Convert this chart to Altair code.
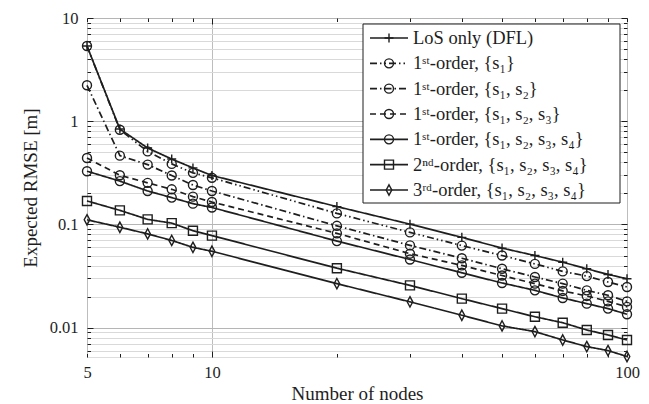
import altair as alt
import pandas as pd

# ---------------- data ----------------
nodes = [5, 6, 7, 8, 9, 10, 20, 30, 40, 50, 60, 70, 80, 90, 100]

los_dfl = [5.35, 0.84, 0.55, 0.43, 0.353, 0.298, 0.149, 0.1007, 0.075, 0.059, 0.050, 0.0431, 0.0372, 0.0328, 0.0298]
first_s1 = [5.35, 0.826, 0.51, 0.386, 0.316, 0.283, 0.128, 0.0838, 0.0624, 0.050, 0.0415, 0.0351, 0.0316, 0.0277, 0.0248]
first_s12 = [2.23, 0.464, 0.38, 0.298, 0.241, 0.211, 0.097, 0.0627, 0.0471, 0.0372, 0.031, 0.0267, 0.023, 0.0206, 0.018]
first_s123 = [0.44, 0.30, 0.253, 0.219, 0.186, 0.165, 0.082, 0.0521, 0.0401, 0.032, 0.0267, 0.0227, 0.0203, 0.018, 0.0159]
first_s1234 = [0.328, 0.263, 0.211, 0.182, 0.159, 0.146, 0.069, 0.0458, 0.034, 0.0271, 0.023, 0.0194, 0.0171, 0.0153, 0.0135]
second_s1234 = [0.169, 0.137, 0.112, 0.103, 0.087, 0.078, 0.0377, 0.0257, 0.0191, 0.0153, 0.01276, 0.01117, 0.0095, 0.0085, 0.0076]
third_s1234 = [0.111, 0.094, 0.081, 0.070, 0.060, 0.055, 0.0267, 0.0178, 0.0132, 0.0104, 0.00916, 0.0076, 0.00656, 0.0060, 0.00526]

labels = [
    "LoS only (DFL)",
    "1ˢᵗ-order, {s₁}",
    "1ˢᵗ-order, {s₁, s₂}",
    "1ˢᵗ-order, {s₁, s₂, s₃}",
    "1ˢᵗ-order, {s₁, s₂, s₃, s₄}",
    "2ⁿᵈ-order, {s₁, s₂, s₃, s₄}",
    "3ʳᵈ-order, {s₁, s₂, s₃, s₄}",
]
series_values = [los_dfl, first_s1, first_s12, first_s123, first_s1234, second_s1234, third_s1234]

x_label_values = [5, 10, 100]
x_tick_values = [5, 6, 7, 8, 9, 10, 20, 30, 40, 50, 60, 70, 80, 90, 100]
y_label_values = [0.01, 0.1, 1, 10]
y_tick_values = [0.006, 0.007, 0.008, 0.009,
                 0.01, 0.02, 0.03, 0.04, 0.05, 0.06, 0.07, 0.08, 0.09,
                 0.1, 0.2, 0.3, 0.4, 0.5, 0.6, 0.7, 0.8, 0.9,
                 1, 2, 3, 4, 5, 6, 7, 8, 9, 10]

# ---------------- styles ----------------
dashes = [[1, 0], [7, 3, 1.5, 3, 1.5, 3], [7, 3, 1.5, 3], [6, 4], [1, 0], [1, 0], [1, 0]]
shapes = ["M-1,0H1M0,-1V1", "circle", "circle", "circle", "circle", "square",
          "M0,-1.15L0.62,0L0,1.15L-0.62,0Z"]

rows = []
for lab, vals in zip(labels, series_values):
    for n, v in zip(nodes, vals):
        rows.append({"series": lab, "nodes": n, "rmse": v})
df = pd.DataFrame(rows)
legend_df = pd.DataFrame({"series": labels})

W, H = 540, 339
FONT = "'Liberation Serif', 'DejaVu Serif', serif"
INK = "#1e1e1e"

xscale = alt.Scale(type="log", domain=[5, 100], nice=False)
yscale = alt.Scale(type="log", domain=[0.0052, 10], nice=False)

major_y = "indexof([0.01, 0.1, 1, 10], datum.value) >= 0"
major_x = "datum.value == 10"

dash_enc = alt.StrokeDash("series:N", scale=alt.Scale(domain=labels, range=dashes), legend=None)
shape_enc = alt.Shape("series:N", scale=alt.Scale(domain=labels, range=shapes), legend=None)

# main lines with label axes + grid
lines = alt.Chart(df).mark_line(color=INK, strokeWidth=1.7).encode(
    x=alt.X("nodes:Q", scale=xscale, axis=alt.Axis(
        orient="bottom", values=x_label_values, format="~g", ticks=False, domain=False,
        grid=True, gridColor="#bdbdbd", labelFlush=False, labelPadding=7,
        labelFontSize=16.5, labelColor=INK, labelFont=FONT,
        title="Number of nodes", titleFontSize=19, titleFontWeight="normal", titleFont=FONT,
        titleColor=INK, titleY=36, titleBaseline="middle")),
    y=alt.Y("rmse:Q", scale=yscale, axis=alt.Axis(
        orient="left", values=y_tick_values, format="~g",
        labelExpr=major_y + " ? datum.label : ''", labelOverlap=False,
        ticks=False, domain=False, grid=True,
        gridColor={"condition": {"test": major_y, "value": "#b5b5b5"}, "value": "#d9d9d9"},
        labelPadding=9, labelFontSize=16.5, labelColor=INK, labelFont=FONT,
        title="Expected RMSE [m]", titleFontSize=19, titleFontWeight="normal", titleFont=FONT,
        titleColor=INK, titleX=-57, titleBaseline="middle")),
    detail="series:N",
    strokeDash=dash_enc,
)

# markers + inward ticks on bottom and left
points = alt.Chart(df).mark_point(filled=False, color=INK, strokeWidth=1.4, size=81, opacity=1).encode(
    x=alt.X("nodes:Q", scale=xscale, axis=alt.Axis(
        orient="top", offset=-H, values=x_tick_values, labels=False, domain=False, grid=False,
        tickColor=INK, tickSize={"condition": {"test": major_x, "value": 6}, "value": 3.5}, title=None)),
    y=alt.Y("rmse:Q", scale=yscale, axis=alt.Axis(
        orient="right", offset=-W, values=y_tick_values, labels=False, domain=False, grid=False,
        tickColor=INK, tickSize={"condition": {"test": major_y, "value": 6}, "value": 3.5}, title=None)),
    shape=shape_enc,
)

# invisible layer carrying inward ticks on top and right
ticks_tr = alt.Chart(df).mark_point(opacity=0).encode(
    x=alt.X("nodes:Q", scale=xscale, axis=alt.Axis(
        orient="bottom", offset=-H, values=x_tick_values, labels=False, domain=False, grid=False,
        tickColor=INK, tickSize={"condition": {"test": major_x, "value": 6}, "value": 3.5}, title=None)),
    y=alt.Y("rmse:Q", scale=yscale, axis=alt.Axis(
        orient="left", offset=-W, values=y_tick_values, labels=False, domain=False, grid=False,
        tickColor=INK, tickSize={"condition": {"test": major_y, "value": 6}, "value": 3.5}, title=None)),
)

# legend
leg_y = alt.Y("series:N", scale=alt.Scale(type="point", domain=labels, range=[20, 172], padding=0), axis=None)

leg_box = alt.Chart(alt.Data(values=[{"k": 1}])).mark_rect(
    fill="white", stroke=INK, strokeWidth=1).encode(
    x=alt.value(276), x2=alt.value(533), y=alt.value(6), y2=alt.value(185))

leg_lines = alt.Chart(legend_df).mark_rule(color=INK, strokeWidth=1.7).encode(
    x=alt.value(283), x2=alt.value(321), y=leg_y, strokeDash=dash_enc)

leg_marks = alt.Chart(legend_df).mark_point(filled=False, color=INK, strokeWidth=1.4, size=81, opacity=1).encode(
    x=alt.value(302), y=leg_y, shape=shape_enc)

leg_text = alt.Chart(legend_df).mark_text(
    align="left", baseline="middle", font=FONT, fontSize=18.5, color=INK).encode(
    x=alt.value(326), y=leg_y, text="series:N")

chart = alt.layer(lines, points, ticks_tr, leg_box, leg_lines, leg_marks, leg_text).resolve_scale(
    x="independent", y="independent"
).resolve_axis(
    x="independent", y="independent"
).properties(
    width=W, height=H,
    padding={"left": 79, "top": 10, "right": 14, "bottom": 45},
    autosize=alt.AutoSizeParams(type="none"),
    background="white",
).configure_view(stroke=INK, strokeWidth=1).configure(font=FONT)

chart.save("out.html", embed_options={"renderer": "svg", "actions": False})
